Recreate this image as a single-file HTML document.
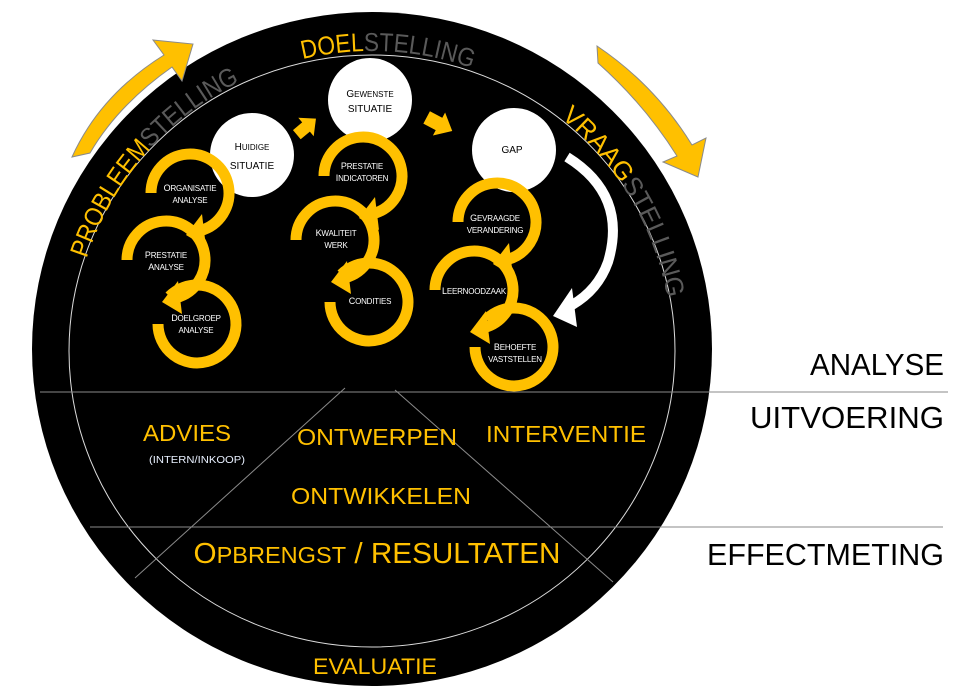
<!DOCTYPE html>
<html><head><meta charset="utf-8"><style>
html,body{margin:0;padding:0;background:#fff;width:971px;height:699px;overflow:hidden}
svg{display:block}
.lbl{font-family:"Liberation Sans",sans-serif;fill:#fff;font-size:8px;text-anchor:middle;letter-spacing:-0.2px}
.sec{font-family:"Liberation Sans",sans-serif;fill:#FFC000;text-anchor:middle}
.rt{font-family:"Liberation Sans",sans-serif;fill:#000;font-size:31px;text-anchor:end}
.wc{font-family:"Liberation Sans",sans-serif;fill:#000;font-size:10px;text-anchor:middle}
</style></head><body>
<svg width="971" height="699" viewBox="0 0 971 699" xmlns="http://www.w3.org/2000/svg">
<defs>
<path id="arc" d="M 72 351 A 300 300 0 0 1 672 351 A 300 300 0 0 1 632 501"/>
<g id="ringA">
 <path d="M -39 0 A 39 39 0 1 1 10.1 37.7" fill="none" stroke="#FFC000" stroke-width="11"/>
 <polygon points="12,21 16,54 -4,42" fill="#FFC000"/>
</g>
<g id="ringB">
 <path d="M -27.6 -27.6 A 39 39 0 1 1 -39 0" fill="none" stroke="#FFC000" stroke-width="11"/>
</g>
</defs>

<ellipse cx="372" cy="349" rx="340" ry="337" fill="#000"/>
<ellipse cx="372" cy="351" rx="303" ry="296" fill="none" stroke="#ddd" stroke-width="1"/>

<line x1="40" y1="392" x2="948" y2="392" stroke="#8a8a8a" stroke-width="1"/>
<line x1="90" y1="527" x2="943" y2="527" stroke="#8a8a8a" stroke-width="1"/>
<line x1="345" y1="388" x2="135" y2="578" stroke="#8a8a8a" stroke-width="1"/>
<line x1="395" y1="390" x2="613" y2="582" stroke="#8a8a8a" stroke-width="1"/>

<text font-family="Liberation Sans, sans-serif" font-size="26">
 <textPath href="#arc" startOffset="94" textLength="240" lengthAdjust="spacingAndGlyphs"><tspan fill="#FFC000">PROBLEEM</tspan><tspan fill="#5a5a5a">STELLING</tspan></textPath>
</text>
<text font-family="Liberation Sans, sans-serif" font-size="26">
 <textPath href="#arc" startOffset="401" textLength="172" lengthAdjust="spacingAndGlyphs"><tspan fill="#FFC000">DOEL</tspan><tspan fill="#5a5a5a">STELLING</tspan></textPath>
</text>
<text font-family="Liberation Sans, sans-serif" font-size="26">
 <textPath href="#arc" startOffset="675" textLength="214" lengthAdjust="spacingAndGlyphs"><tspan fill="#FFC000">VRAAG</tspan><tspan fill="#5a5a5a">STELLING</tspan></textPath>
</text>

<path d="M72,157 Q100,95 164,55 L153,40 L193,44 L182,81 L172,67 Q118,105 90,153 Z" fill="#FFC000" stroke="#8a8a8a" stroke-width="1"/>
<path d="M597,46 Q655,85 692,145 L706,138 L698,177 L663,162 L677,156 Q645,105 598,63 Z" fill="#FFC000" stroke="#8a8a8a" stroke-width="1"/>

<circle cx="252" cy="155" r="42" fill="#fff"/>
<circle cx="370" cy="100" r="42" fill="#fff"/>
<circle cx="514" cy="150" r="42" fill="#fff"/>
<text class="wc" x="252" y="150" font-size="10">H<tspan font-size="8">UIDIGE</tspan></text>
<text class="wc" x="252" y="169" font-size="8">SITUATIE</text>
<text class="wc" x="370" y="97" font-size="10">G<tspan font-size="8">EWENSTE</tspan></text>
<text class="wc" x="370" y="112" font-size="8">SITUATIE</text>
<text class="wc" x="512" y="153" font-size="9">GAP</text>

<g transform="translate(306,127) rotate(-40)"><rect x="-12" y="-6" width="13" height="12" fill="#FFC000"/><polygon points="0,-12 13,0 0,12" fill="#FFC000"/></g>
<g transform="translate(439,124) rotate(28)"><rect x="-14" y="-7" width="15" height="14" fill="#FFC000"/><polygon points="0,-13 15,0 0,13" fill="#FFC000"/></g>

<path d="M567,157 Q628,195 608,262 Q598,290 572,305" fill="none" stroke="#fff" stroke-width="10"/>
<polygon points="572,288 577,327 553,316" fill="#fff"/>

<use href="#ringA" x="190" y="193"/>
<use href="#ringA" x="166" y="260"/>
<use href="#ringB" x="197" y="324"/>
<use href="#ringA" x="363" y="176"/>
<use href="#ringA" x="335" y="240"/>
<use href="#ringB" x="369" y="302"/>
<use href="#ringA" x="497" y="222"/>
<use href="#ringA" x="474" y="290"/>
<use href="#ringB" x="514" y="347"/>

<g class="lbl">
<text x="190" y="191"><tspan font-size="9">O</tspan>RGANISATIE</text>
<text x="190" y="203">ANALYSE</text>
<text x="166" y="258"><tspan font-size="9">P</tspan>RESTATIE</text>
<text x="166" y="270"><tspan font-size="9">A</tspan>NALYSE</text>
<text x="196" y="321"><tspan font-size="9">D</tspan>OELGROEP</text>
<text x="196" y="333">ANALYSE</text>
<text x="362" y="169"><tspan font-size="9">P</tspan>RESTATIE</text>
<text x="362" y="181"><tspan font-size="9">I</tspan>NDICATOREN</text>
<text x="336" y="236"><tspan font-size="9">K</tspan>WALITEIT</text>
<text x="336" y="248">WERK</text>
<text x="370" y="304"><tspan font-size="9">C</tspan>ONDITIES</text>
<text x="495" y="221"><tspan font-size="9">G</tspan>EVRAAGDE</text>
<text x="495" y="233">VERANDERING</text>
<text x="474" y="294"><tspan font-size="9">L</tspan>EERNOODZAAK</text>
<text x="515" y="350"><tspan font-size="9">B</tspan>EHOEFTE</text>
<text x="515" y="362">VASTSTELLEN</text>
</g>

<text class="sec" x="187" y="441" font-size="23" textLength="88" lengthAdjust="spacingAndGlyphs">ADVIES</text>
<text x="197" y="463" font-family="Liberation Sans, sans-serif" font-size="10" fill="#e8f0ff" text-anchor="middle" textLength="96" lengthAdjust="spacingAndGlyphs">(INTERN/INKOOP)</text>
<text class="sec" x="377" y="445" font-size="23" textLength="160" lengthAdjust="spacingAndGlyphs">ONTWERPEN</text>
<text class="sec" x="566" y="442" font-size="23" textLength="160" lengthAdjust="spacingAndGlyphs">INTERVENTIE</text>
<text class="sec" x="381" y="504" font-size="23" textLength="180" lengthAdjust="spacingAndGlyphs">ONTWIKKELEN</text>
<text class="sec" x="377" y="563" font-size="29" textLength="367" lengthAdjust="spacingAndGlyphs">O<tspan font-size="23">PBRENGST</tspan> / RESULTATEN</text>
<text class="sec" x="375" y="674" font-size="22" textLength="124" lengthAdjust="spacingAndGlyphs">EVALUATIE</text>

<text class="rt" x="944" y="375" textLength="134" lengthAdjust="spacingAndGlyphs">ANALYSE</text>
<text class="rt" x="944" y="428" textLength="194" lengthAdjust="spacingAndGlyphs">UITVOERING</text>
<text class="rt" x="944" y="565" textLength="237" lengthAdjust="spacingAndGlyphs">EFFECTMETING</text>
</svg>
</body></html>
